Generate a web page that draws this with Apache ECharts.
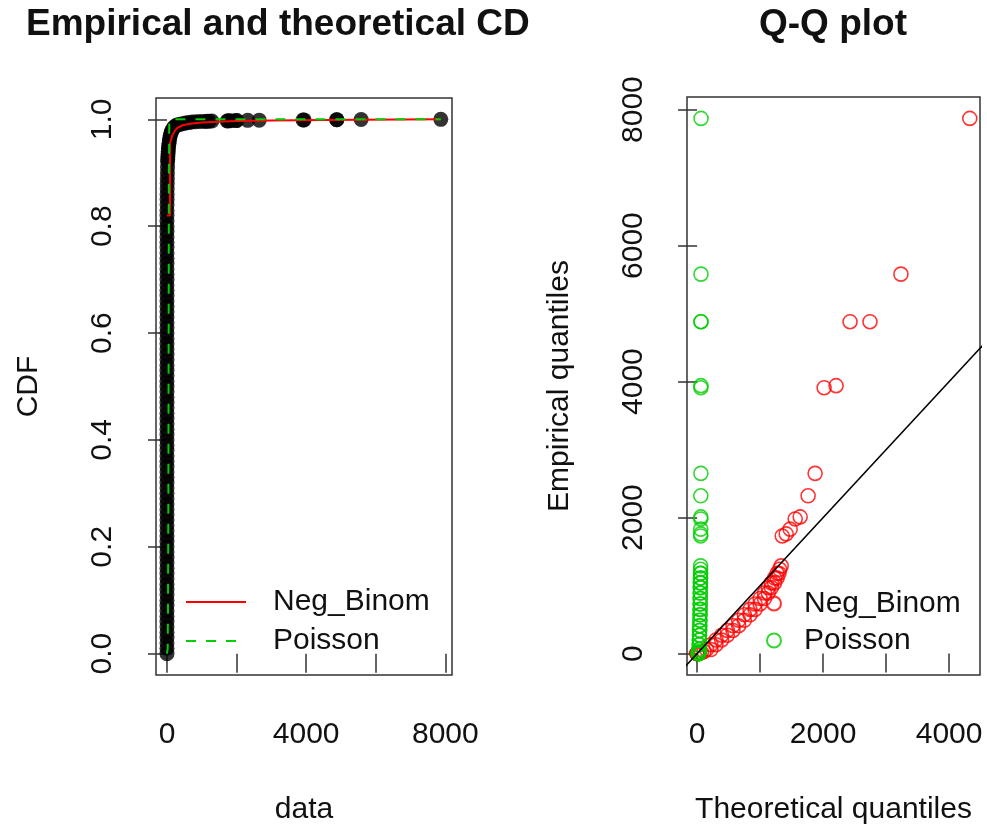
<!DOCTYPE html>
<html>
<head>
<meta charset="utf-8">
<script src="https://cdn.jsdelivr.net/npm/echarts@6/dist/echarts.min.js"></script>
<style>
html,body{margin:0;padding:0;background:#fff;}
#chart{width:987px;height:834px;}
</style>
</head>
<body>
<div id="chart"></div>
<script>
// ---------- Left panel: empirical CDF (points) ----------
const ecdfX = [0,0,0,0,0,0,0,0,0,0,0,0,0,0,0,0,0,0,0,0,0,0,0,0,0,0,0,0,0,0,0,0,0,0,0,0,0,0,0,0,0,0,
  0,0,0,0,0,0,0,0,0,0,0,0,0,0,0,0,0,0,0,0,0,0,0,0,0,0,0,0,0,0,0,0,0,0,0,0,0,0,0,0,0,
  1,2,3,4,6,8,10,12,15,18,21,25,30,35,40,47,57,68,80,95,110,130,150,175,200,230,270,320,380,450,530,620,720,830,950,1080,1151,1210,1290,
  1730,1760,1830,1980,2010,2320,2650,3910,3940,4880,4880,5580,7870];
const ecdfY = [0.00,0.01,0.02,0.03,0.04,0.05,0.06,0.07,0.08,0.09,0.10,0.11,0.12,0.13,0.14,0.15,0.16,0.17,0.18,0.19,0.20,0.21,0.22,0.23,0.24,0.25,0.26,0.27,0.28,0.29,0.30,0.31,0.32,0.33,0.34,0.35,0.36,0.37,0.38,0.39,0.40,0.41,
  0.42,0.43,0.44,0.45,0.46,0.47,0.48,0.49,0.50,0.51,0.52,0.53,0.54,0.55,0.56,0.57,0.58,0.59,0.60,0.61,0.62,0.63,0.64,0.65,0.66,0.67,0.68,0.69,0.70,0.71,0.72,0.73,0.74,0.75,0.76,0.77,0.78,0.79,0.80,0.81,0.82,
  0.83,0.84,0.85,0.86,0.87,0.88,0.89,0.90,0.91,0.92,0.925,0.93,0.935,0.94,0.945,0.95,0.955,0.96,0.965,0.97,0.974,0.977,0.98,0.983,0.985,0.987,0.989,0.990,0.991,0.992,0.993,0.994,0.995,0.9955,0.996,0.9962,0.9965,0.9967,0.9969,
  0.9970,0.9972,0.9975,0.9977,0.9980,0.9982,0.9985,0.9987,0.9990,0.9992,0.9995,0.9997,1.0];

// Theoretical CDF curves
const nbCdfX = [0,85,85,150,220,300,450,670,1000,1450,2000,3000,4500,7870];
const nbCdfY = [0.82,0.82,0.955,0.97,0.978,0.984,0.989,0.992,0.994,0.9955,0.997,0.998,0.999,1.0];
const poisCdfX = [0,20,30,40,45,50,55,65,80,7870];
const poisCdfY = [0,0.01,0.1,0.3,0.5,0.7,0.9,0.99,1.0,1.0];

// ---------- Right panel: Q-Q plot ----------
const qqEmpirical = [0,0,0,0,0,0,
  5,15,30,60,60,130,130,200,200,270,270,340,340,410,410,490,490,570,570,650,650,730,730,810,810,890,890,970,970,1040,1040,1110,1110,1180,1180,1240,1290,
  1730,1760,1830,1980,2010,2320,2650,3910,3940,4880,4880,5580,7870];
const qqNegBinom = [0,0,0,0,10,30,
  40,70,110,150,220,220,300,300,390,390,480,480,570,570,660,660,750,750,840,840,920,920,1000,1000,1070,1070,1130,1130,1180,1180,1230,1230,1270,1270,1300,1310,1335,
  1351,1414,1477,1557,1636,1762,1873,2016,2206,2428,2744,3235,4328];
const qqPoisson = [15,18,21,24,26,28,
  29,30,31,32,33,34,35,36,37,38,39,40,41,42,43,44,45,46,47,48,48,49,49,50,50,51,51,52,52,53,53,54,54,55,55,56,56,
  57,57,58,58,59,59,60,60,61,61,62,62,63];
const qqLineEnds = [-1000, 9000]; // y = x reference line

// tick values / labels
const cdfTicks = [0, 0.2, 0.4, 0.6, 0.8, 1.0];
const dataTicks = [0, 2000, 4000, 6000, 8000];
const dataLabels = [0, 4000, 8000];
const theoTicks = [0, 1000, 2000, 3000, 4000];
const theoLabels = [0, 2000, 4000];
const empTicks = [0, 2000, 4000, 6000, 8000];

const FONT = '"Liberation Sans", Arial, Helvetica, sans-serif';
const TXT = '#111';
const AX = '#333';
const RED = '#FF0000';
const GREEN = '#00CD00';
const FS = 30;

function zip(a, b) { return a.map((v, i) => [v, b[i]]); }
const plain = v => String(v);

function valAxis(o) {
  return Object.assign({
    type: 'value',
    axisLine: { show: false },
    splitLine: { show: false },
    nameTextStyle: { color: TXT, fontSize: FS, fontFamily: FONT }
  }, o);
}
function ticks(vals) {
  return { show: true, length: 19, customValues: vals, lineStyle: { color: AX, width: 1.5 } };
}

const chart = echarts.init(document.getElementById('chart'), null, { renderer: 'canvas' });

const option = {
  animation: false,
  backgroundColor: '#fff',
  title: [
    { text: 'Empirical and theoretical CDF', left: 26, top: 6, padding: 0,
      textStyle: { fontSize: 37, fontWeight: 'bold', fontFamily: FONT, color: TXT,
                   width: 516, overflow: 'truncate', ellipsis: '' } },
    { text: 'Q-Q plot', left: 833, top: 6, padding: 0, textAlign: 'center',
      textStyle: { fontSize: 37, fontWeight: 'bold', fontFamily: FONT, color: TXT } }
  ],
  grid: [
    { left: 156, top: 98, width: 296, height: 577, show: true, borderColor: AX, borderWidth: 1.5, backgroundColor: 'transparent' },
    { left: 687, top: 97, width: 293, height: 578, show: true, borderColor: AX, borderWidth: 1.5, backgroundColor: 'transparent' }
  ],
  xAxis: [
    valAxis({ gridIndex: 0, min: -316, max: 8192, axisTick: ticks(dataTicks),
      axisLabel: { customValues: dataLabels, color: TXT, fontSize: FS, fontFamily: FONT, margin: 45, formatter: plain },
      name: 'data', nameLocation: 'middle', nameGap: 120 }),
    valAxis({ gridIndex: 1, min: -160, max: 4490, axisTick: ticks(theoTicks),
      axisLabel: { customValues: theoLabels, color: TXT, fontSize: FS, fontFamily: FONT, margin: 45, formatter: plain },
      name: 'Theoretical quantiles', nameLocation: 'middle', nameGap: 120 })
  ],
  yAxis: [
    valAxis({ gridIndex: 0, min: -0.04, max: 1.04, axisTick: ticks(cdfTicks),
      axisLabel: { customValues: cdfTicks, rotate: 90, margin: 38, color: TXT, fontSize: FS, fontFamily: FONT,
                   formatter: v => v.toFixed(1) },
      name: 'CDF', nameLocation: 'middle', nameRotate: 90, nameGap: 112 }),
    valAxis({ gridIndex: 1, min: -315, max: 8185, axisTick: ticks(empTicks),
      axisLabel: { customValues: empTicks, rotate: 90, margin: 38, color: TXT, fontSize: FS, fontFamily: FONT, formatter: plain },
      name: 'Empirical quantiles', nameLocation: 'middle', nameRotate: 90, nameGap: 112 })
  ],
  legend: [
    { left: 185, top: 584, padding: 0, orient: 'vertical', itemWidth: 60, itemHeight: 14, itemGap: 3,
      data: ['Neg_Binom', 'Poisson'], selectedMode: false,
      itemStyle: { opacity: 0 },
      textStyle: { fontSize: FS, fontFamily: FONT, color: TXT, lineHeight: 36, padding: [0, 0, 0, 22] } },
    { left: 766, top: 586, padding: 0, orient: 'vertical', itemWidth: 14, itemHeight: 14, itemGap: 2,
      data: ['qq Neg_Binom', 'qq Poisson'], selectedMode: false,
      formatter: n => n.replace('qq ', ''),
      textStyle: { fontSize: FS, fontFamily: FONT, color: TXT, lineHeight: 35, padding: [0, 0, 0, 18] } }
  ],
  series: [
    { type: 'scatter', name: 'ECDF', xAxisIndex: 0, yAxisIndex: 0, symbol: 'circle', symbolSize: 15,
      itemStyle: { color: '#000' }, data: zip(ecdfX, ecdfY), z: 2 },
    { type: 'line', name: 'Neg_Binom', xAxisIndex: 0, yAxisIndex: 0, symbol: 'none', showSymbol: false,
      lineStyle: { color: RED, width: 2 }, itemStyle: { color: RED }, data: zip(nbCdfX, nbCdfY), z: 3 },
    { type: 'line', name: 'Poisson', xAxisIndex: 0, yAxisIndex: 0, symbol: 'none', showSymbol: false,
      lineStyle: { color: GREEN, width: 2, type: [10, 10] }, itemStyle: { color: GREEN }, data: zip(poisCdfX, poisCdfY), z: 4 },
    { type: 'scatter', name: 'qq Neg_Binom', xAxisIndex: 1, yAxisIndex: 1, symbol: 'circle', symbolSize: 14,
      itemStyle: { color: 'rgba(0,0,0,0)', borderColor: RED, borderWidth: 1.6 }, data: zip(qqNegBinom, qqEmpirical), z: 2 },
    { type: 'scatter', name: 'qq Poisson', xAxisIndex: 1, yAxisIndex: 1, symbol: 'circle', symbolSize: 14,
      itemStyle: { color: 'rgba(0,0,0,0)', borderColor: GREEN, borderWidth: 1.6 }, data: zip(qqPoisson, qqEmpirical), z: 3 },
    { type: 'line', name: 'y=x', xAxisIndex: 1, yAxisIndex: 1, symbol: 'none', clip: true,
      lineStyle: { color: '#000', width: 1.5 }, data: qqLineEnds.map(v => [v, v]), z: 5 }
  ]
};
chart.setOption(option);
</script>
</body>
</html>
